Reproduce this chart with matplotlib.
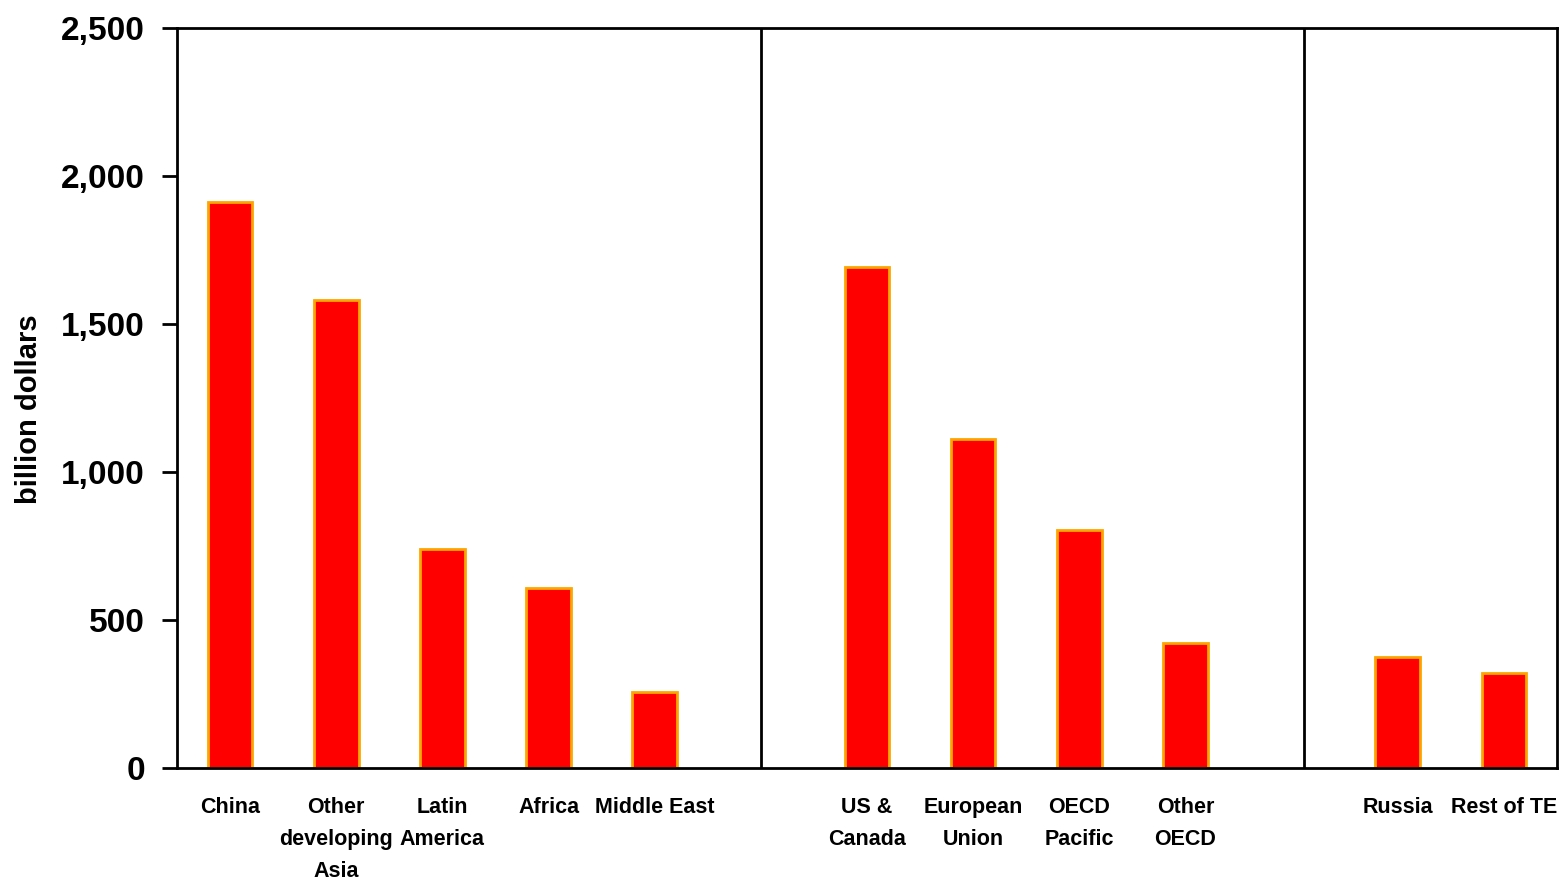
import matplotlib
matplotlib.use("Agg")
import matplotlib.pyplot as plt
from matplotlib import font_manager
from matplotlib.ticker import FuncFormatter

names = {f.name for f in font_manager.fontManager.ttflist}
fam = ['Liberation Sans Narrow', 'Liberation Sans', 'DejaVu Sans'] if 'Liberation Sans Narrow' in names else ['Liberation Sans', 'DejaVu Sans']
plt.rcParams['font.family'] = fam

categories = ["China", "Other\ndeveloping\nAsia", "Latin\nAmerica", "Africa", "Middle East", "",
              "US &\nCanada", "European\nUnion", "OECD\nPacific", "Other\nOECD", "",
              "Russia", "Rest of TE"]
values = [1912, 1581, 740, 608, 257, None,
          1693, 1111, 804, 422, None,
          375, 321]
yticks = [0, 500, 1000, 1500, 2000, 2500]

W, H = 1561, 880
fig = plt.figure(figsize=(W / 100, H / 100), dpi=100)
ax = fig.add_axes([177 / W, 1 - 768 / H, (1557 - 177) / W, (768 - 28) / H])

xs = [i for i, v in enumerate(values) if v is not None]
vs = [v for v in values if v is not None]
ax.bar(xs, vs, width=0.42, color='#ff0000', edgecolor='#ffa500', linewidth=2, zorder=2)

ax.set_xlim(-0.5, len(categories) - 0.5)
ax.set_ylim(0, 2500)
ax.set_yticks(yticks)
ax.yaxis.set_major_formatter(FuncFormatter(lambda v, p: f"{int(v):,}"))
ax.set_xticks(range(len(categories)))
ax.set_xticklabels(categories, fontsize=15.5, fontweight='bold', linespacing=1.68, va='top')
ax.tick_params(axis='x', length=0, pad=21)
ax.tick_params(axis='y', direction='out', length=11, width=2, labelsize=24, pad=12)
for lab in ax.get_yticklabels():
    lab.set_fontweight('bold')
for s in ax.spines.values():
    s.set_linewidth(2)
    s.set_color('black')

ax.axvline(5.0, color='black', linewidth=2, zorder=1)
ax.axvline(10.12, color='black', linewidth=2, zorder=1)

fig.text(29 / W, 1 - 409 / H, "billion dollars", rotation=90, ha='center', va='center',
         fontsize=21, fontweight='bold')

fig.savefig("out.png", dpi=100)
